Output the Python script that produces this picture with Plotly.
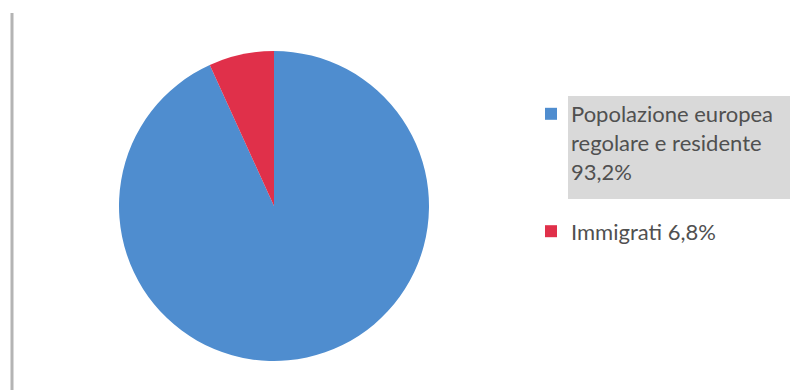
import plotly.graph_objects as go

labels = ["Popolazione europea<br>regolare e residente<br>93,2%<br> ", "Immigrati 6,8%"]
values = [93.2, 6.8]
colors = ["#4F8DCF", "#E0304A"]

W, H = 800, 390
cx, cy, d = 274, 206, 310

fig = go.Figure(go.Pie(
    labels=labels, values=values, sort=False, direction="clockwise", rotation=0,
    marker=dict(colors=colors, line=dict(width=0)),
    textinfo="none", hoverinfo="label+percent",
    domain=dict(x=[(cx - d / 2) / W, (cx + d / 2) / W],
                y=[(H - cy - d / 2) / H, (H - cy + d / 2) / H]),
))

fig.update_layout(
    width=W, height=H, margin=dict(l=0, r=0, t=0, b=0),
    paper_bgcolor="white", plot_bgcolor="white",
    font=dict(family="Lato, Open Sans, sans-serif", size=22, color="#505050"),
    legend=dict(x=531 / W, y=1 - 93 / H, xanchor="left", yanchor="top",
                valign="top", bgcolor="rgba(0,0,0,0)", itemwidth=30,
                font=dict(size=22, color="#505050")),
    shapes=[
        dict(type="rect", xref="paper", yref="paper",
             x0=568 / W, x1=790 / W, y0=1 - 199 / H, y1=1 - 96 / H,
             fillcolor="#D9D9D9", line=dict(width=0), layer="below"),
        dict(type="line", xref="paper", yref="paper",
             x0=12 / W, x1=12 / W, y0=0, y1=1 - 13 / H,
             line=dict(color="#B4B4B4", width=3)),
    ],
)

fig.write_html("out.html")
